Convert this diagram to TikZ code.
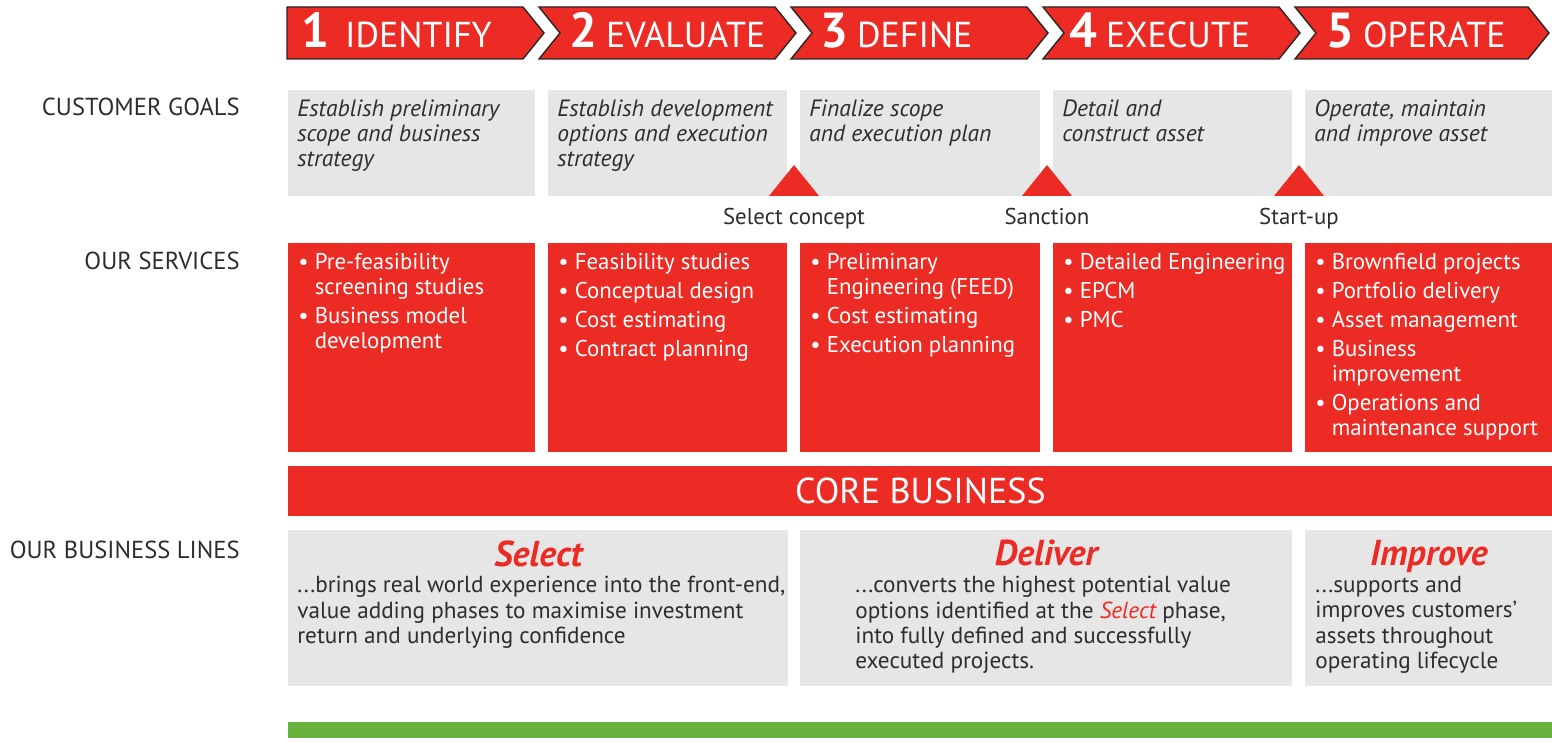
\documentclass[tikz,border=0pt]{standalone}
\usepackage{fontspec}
\setmainfont{PT Sans}
\usepackage{tikz}
\usetikzlibrary{positioning}
\newlength\pxu
\setlength\pxu{0.02cm}
\definecolor{brandred}{RGB}{236,43,36}
\definecolor{boxgray}{RGB}{230,230,230}
\definecolor{inkgray}{RGB}{45,45,45}
\definecolor{leafgreen}{RGB}{106,178,62}
\newcommand\svcitem{\textbullet\ }
\newcommand\svcindent{\hphantom{\textbullet\ }}
\tikzset{
  phase/.style = {fill = brandred, draw = black!85, line width = 0.8pt, line join = miter},
  phasetext/.style = {anchor = base west, inner sep = 0, text = white, font = \fontsize{20.5}{24}\selectfont},
  rowlabel/.style = {anchor = base east, inner sep = 0, text = inkgray, font = \fontsize{14}{16}\selectfont},
  goalbox/.style = {fill = boxgray, anchor = north west, inner sep = 0, minimum height = 106\pxu},
  goaltext/.style = {inner sep = 0, align = left, text = inkgray, font = \fontsize{13.4}{14.2}\selectfont\itshape},
  servicebox/.style = {fill = brandred, anchor = north west, inner sep = 0, minimum height = 209\pxu},
  servicetext/.style = {inner sep = 0, align = left, text = white, font = \fontsize{13}{14.2}\selectfont},
  milestone/.style = {fill = brandred},
  milestonetext/.style = {inner sep = 0, text = inkgray, font = \fontsize{13}{15}\selectfont},
  corebar/.style = {fill = brandred, anchor = north west, inner sep = 0, minimum height = 50\pxu, text = white, font = \fontsize{20.5}{24}\selectfont},
  linebox/.style = {fill = boxgray, anchor = north west, inner sep = 0, minimum height = 156\pxu},
  linetitle/.style = {inner sep = 0, text = brandred, font = \fontsize{20.5}{22}\selectfont\bfseries\itshape},
  linetext/.style = {inner sep = 0, align = left, text = inkgray, font = \fontsize{13.2}{14.4}\selectfont},
}

\begin{document}
\begin{tikzpicture}[x = 0.02cm, y = -0.02cm]
  \useasboundingbox (0,0) rectangle (1552,742);

  % phases
  \draw [phase] (287,7) -- (523,7) -- (544,33) -- (523,59) -- (287,59) -- cycle;
  \draw [phase] (539,7) -- (775,7) -- (796,33) -- (775,59) -- (539,59) -- (560,33) -- cycle;
  \draw [phase] (791,7) -- (1027,7) -- (1048,33) -- (1027,59) -- (791,59) -- (812,33) -- cycle;
  \draw [phase] (1043,7) -- (1279,7) -- (1300,33) -- (1279,59) -- (1043,59) -- (1064,33) -- cycle;
  \draw [phase] (1295,7) -- (1528,7) -- (1549,33) -- (1528,59) -- (1295,59) -- (1316,33) -- cycle;
  \node [phasetext] (identify) at (301,48) {{\fontsize{28}{30}\selectfont\bfseries 1}\hspace{9pt}IDENTIFY};
  \node [phasetext] (evaluate) at (569,48) {{\fontsize{28}{30}\selectfont\bfseries 2}\hspace{5pt}EVALUATE};
  \node [phasetext] (define) at (820,48) {{\fontsize{28}{30}\selectfont\bfseries 3}\hspace{5pt}DEFINE};
  \node [phasetext] (execute) at (1069,48) {{\fontsize{28}{30}\selectfont\bfseries 4}\hspace{5pt}EXECUTE};
  \node [phasetext] (operate) at (1326,48) {{\fontsize{28}{30}\selectfont\bfseries 5}\hspace{5pt}OPERATE};

  % row labels
  \node [rowlabel] (goals) at (240,116) {CUSTOMER GOALS};
  \node [rowlabel] (services) at (240,270) {OUR SERVICES};
  \node [rowlabel] (lines) at (240,559) {OUR BUSINESS LINES};

  % customer goals
  \node [goalbox, minimum width = 247\pxu] (g1) at (288,90) {};
  \node [goalbox, minimum width = 239\pxu] (g2) at (548,90) {};
  \node [goalbox, minimum width = 240\pxu] (g3) at (800,90) {};
  \node [goalbox, minimum width = 239\pxu] (g4) at (1053,90) {};
  \node [goalbox, minimum width = 247\pxu] (g5) at (1305,90) {};
  \node [goaltext, below right = 0.19cm and 0.18cm of g1.north west] (g1t) {Establish preliminary\\scope and business\\strategy};
  \node [goaltext, below right = 0.19cm and 0.18cm of g2.north west] (g2t) {Establish development\\options and execution\\strategy};
  \node [goaltext, below right = 0.19cm and 0.18cm of g3.north west] (g3t) {Finalize scope\\and execution plan};
  \node [goaltext, below right = 0.19cm and 0.18cm of g4.north west] (g4t) {Detail and\\construct asset};
  \node [goaltext, below right = 0.19cm and 0.18cm of g5.north west] (g5t) {Operate, maintain\\and improve asset};

  % milestones
  \coordinate (m1) at (794,196);
  \coordinate (m2) at (1047,196);
  \coordinate (m3) at (1299,196);
  \fill [milestone] (m1) ++(-25,0) -- ++(25,-31) -- ++(25,31) -- cycle;
  \fill [milestone] (m2) ++(-25,0) -- ++(25,-31) -- ++(25,31) -- cycle;
  \fill [milestone] (m3) ++(-25,0) -- ++(25,-31) -- ++(25,31) -- cycle;
  \node [milestonetext, below = 0.24cm of m1] (concept) {Select concept};
  \node [milestonetext, below = 0.24cm of m2] (sanction) {Sanction};
  \node [milestonetext, below = 0.24cm of m3] (startup) {Start-up};

  % services
  \node [servicebox, minimum width = 247\pxu] (s1) at (288,243) {};
  \node [servicebox, minimum width = 239\pxu] (s2) at (548,243) {};
  \node [servicebox, minimum width = 240\pxu] (s3) at (800,243) {};
  \node [servicebox, minimum width = 239\pxu] (s4) at (1053,243) {};
  \node [servicebox, minimum width = 247\pxu] (s5) at (1305,243) {};
  \node [servicetext, below right = 0.2cm and 0.2cm of s1.north west] (s1t)
    {\svcitem Pre-feasibility\\\svcindent screening studies\\[2.3pt]\svcitem Business model\\\svcindent development};
  \node [servicetext, below right = 0.2cm and 0.2cm of s2.north west] (s2t)
    {\svcitem Feasibility studies\\[2.3pt]\svcitem Conceptual design\\[2.3pt]\svcitem Cost estimating\\[2.3pt]\svcitem Contract planning};
  \node [servicetext, below right = 0.2cm and 0.2cm of s3.north west] (s3t)
    {\svcitem Preliminary\\\svcindent Engineering (FEED)\\[2.3pt]\svcitem Cost estimating\\[2.3pt]\svcitem Execution planning};
  \node [servicetext, below right = 0.2cm and 0.2cm of s4.north west] (s4t)
    {\svcitem Detailed Engineering\\[2.3pt]\svcitem EPCM\\[2.3pt]\svcitem PMC};
  \node [servicetext, below right = 0.2cm and 0.2cm of s5.north west] (s5t)
    {\svcitem Brownfield projects\\[2.3pt]\svcitem Portfolio delivery\\[2.3pt]\svcitem Asset management\\[2.3pt]\svcitem Business\\\svcindent improvement\\[2.3pt]\svcitem Operations and\\\svcindent maintenance support};

  % core business
  \node [corebar, minimum width = 1264\pxu] (core) at (288,466) {CORE BUSINESS};

  % business lines
  \node [linebox, minimum width = 500\pxu] (select) at (288,530) {};
  \node [linebox, minimum width = 492\pxu] (deliver) at (800,530) {};
  \node [linebox, minimum width = 247\pxu] (improve) at (1305,530) {};
  \node [linetitle, below = 0.2cm of select.north] (selecth) {Select};
  \node [linetitle, below = 0.2cm of deliver.north] (deliverh) {Deliver};
  \node [linetitle, below = 0.2cm of improve.north] (improveh) {Improve};
  \node [linetext, below right = 0.92cm and 0.18cm of select.north west] (selectt)
    {...brings real world experience into the front-end,\\value adding phases to maximise investment\\return and underlying confidence};
  \node [linetext, below right = 0.92cm and 1.1cm of deliver.north west] (delivert)
    {...converts the highest potential value\\options identified at the \textcolor{brandred}{\itshape Select} phase,\\into fully defined and successfully\\executed projects.};
  \node [linetext, below right = 0.92cm and 0.2cm of improve.north west] (improvet)
    {...supports and\\improves customers'\\assets throughout\\operating lifecycle};

  % footer
  \fill [leafgreen] (288,722) rectangle (1552,738);
\end{tikzpicture}
\end{document}
